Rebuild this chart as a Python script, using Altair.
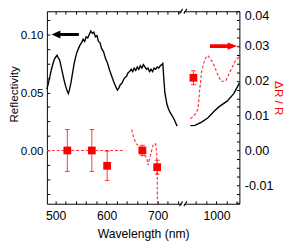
import altair as alt
import pandas as pd

# ---------------- data ----------------
# Reflectivity (black, left axis) – visible part
REFL_VIS_NM = [483, 486, 489, 492, 495, 498, 501, 503, 505, 508, 511, 514, 517, 520, 523, 525, 527, 530,
               533, 536, 539, 542, 545, 548, 551, 554, 557, 560, 563, 566, 569, 572, 575, 578, 581, 584,
               587, 590, 594, 598, 602, 606, 610, 614, 618, 621, 624, 627, 630, 633, 636, 639, 642, 645,
               648, 651, 654, 657, 660, 663, 666, 669, 672, 675, 678, 681, 684, 687, 690, 693, 696, 699,
               702, 705, 708, 710, 712, 714, 716, 718, 721, 724, 728, 731, 734, 736, 738]
REFL_VIS = [0.053, 0.058, 0.064, 0.070, 0.075, 0.079, 0.081, 0.082, 0.080, 0.078, 0.072, 0.066, 0.060,
            0.055, 0.051, 0.049, 0.052, 0.058, 0.066, 0.074, 0.080, 0.085, 0.088, 0.091, 0.093, 0.096,
            0.094, 0.098, 0.097, 0.100, 0.103, 0.101, 0.102, 0.098, 0.099, 0.094, 0.093, 0.088, 0.085,
            0.079, 0.075, 0.069, 0.064, 0.059, 0.055, 0.052, 0.054, 0.057, 0.058, 0.061, 0.063, 0.064,
            0.067, 0.068, 0.070, 0.068, 0.071, 0.069, 0.072, 0.070, 0.073, 0.071, 0.074, 0.072, 0.070,
            0.071, 0.068, 0.070, 0.068, 0.071, 0.070, 0.072, 0.071, 0.073, 0.074, 0.075, 0.062, 0.050,
            0.045, 0.040, 0.036, 0.033, 0.030, 0.028, 0.025, 0.023, 0.021]
# Reflectivity – near-IR part
REFL_NIR_NM = [949, 958, 971, 983, 996, 1006, 1021, 1034, 1045]
REFL_NIR = [0.0214, 0.0217, 0.0245, 0.028, 0.034, 0.038, 0.0425, 0.049, 0.058]

# dR/R (red dashed, right axis)
DR_ZERO_NM = [483, 633]
DR_ZERO = [0.0, 0.0]
DR_VIS_NM = [649, 653, 658, 664, 670, 675, 679, 681, 685, 689, 692, 696, 698, 699, 700]
DR_VIS = [0.006, 0.0037, 0.0019, 0.0012, 0.0, -0.0014, -0.0023, -0.0042, -0.0019, 0.0005, 0.0019,
          0.0019, -0.0005, -0.0048, -0.03]
DR_NIR_NM = [949, 958, 964, 967, 971, 977, 983, 993, 1002, 1009, 1018, 1028, 1037, 1045]
DR_NIR = [0.0091, 0.0103, 0.0119, 0.017, 0.0225, 0.0262, 0.0273, 0.0253, 0.022, 0.0199, 0.0199,
          0.023, 0.0257, 0.0271]

# dR/R measured points (red squares with error bars)
PT_NM = [523, 571, 601, 670, 699, 955]
PT_VAL = [0.0, 0.0, -0.0044, 0.0, -0.0048, 0.0209]
PT_ERR = [0.006, 0.006, 0.0042, 0.0015, 0.002, 0.002]

# arrows (center wavelength, value)
ARROW_L = {"nm": 519, "v": 0.10}
ARROW_R = {"nm": 1014, "v": 0.030}

# axis layout
BREAK_LO, BREAK_HI = 750, 935
SHIFT = BREAK_HI - BREAK_LO
X_DOMAIN = [483, 860]
X_TICKS_NM = list(range(500, 741, 20)) + list(range(960, 1041, 20))
X_LABELS = [500, 600, 700, 1000]
YL_DOMAIN = [-0.0459, 0.12]
YR_DOMAIN = [-0.0153, 0.04]
YL_TICKS = [round(-0.0375 + 0.0125 * i, 5) for i in range(13)]
YL_LABELS = [0.0, 0.05, 0.10]
YR_TICKS = [round(-0.015 + 0.0025 * i, 5) for i in range(23)]
YR_LABELS = [-0.01, 0.0, 0.01, 0.02, 0.03, 0.04]

RED = "#ff0000"
FONT = "Liberation Sans"

# ---------------- helpers ----------------
def disp(nm):
    return nm if nm <= BREAK_LO else nm - SHIFT

xcalc = f"datum.nm > {BREAK_LO} ? datum.nm - {SHIFT} : datum.nm"
X_TICK_POS = [disp(v) for v in X_TICKS_NM]
x_label_expr = " : ".join(f"datum.value == {disp(v)} ? '{v}'" for v in X_LABELS) + " : ''"


def ylab(vals):
    return " : ".join(
        f"abs(datum.value - ({v})) < 1e-6 ? '{v:.2f}'" for v in vals) + " : ''"


xscale = alt.Scale(domain=X_DOMAIN, nice=False, zero=False)
ylscale = alt.Scale(domain=YL_DOMAIN, nice=False, zero=False)
yrscale = alt.Scale(domain=YR_DOMAIN, nice=False, zero=False)

common = dict(offset=-3, tickSize=3, tickWidth=1, tickColor="black", domain=False, grid=False,
              labelFont=FONT, labelColor="black", labelFlush=False,
              labelOverlap=False, titleFont=FONT, titleFontWeight="normal")

x_bottom = alt.Axis(orient="bottom", values=X_TICK_POS, labelExpr=x_label_expr,
                    title="Wavelength (nm)", labelPadding=6, labelFontSize=12.5,
                    titleFontSize=12.5, titlePadding=6, titleColor="black", **common)
x_top = alt.Axis(orient="top", values=X_TICK_POS, labels=False, title=None, **common)
y_left = alt.Axis(orient="left", values=YL_TICKS, labelExpr=ylab(YL_LABELS), title="Reflectivity",
                  labelPadding=4, labelFontSize=12, titleFontSize=12, titleColor="black",
                  titleBaseline="alphabetic", titleX=-33, titleY=85, **common)
y_right = alt.Axis(orient="right", values=YR_TICKS, labelExpr=ylab(YR_LABELS), title="ΔR / R",
                   labelPadding=5, labelFontSize=13, titleFontSize=12, titleColor=RED,
                   titleBaseline="alphabetic", titleX=39, titleY=89,
                   labelOffset={"condition": {"test": "datum.value > 0.039", "value": 4.5}, "value": 0},
                   **common)

# ---------------- tables ----------------
refl = pd.DataFrame({
    "nm": REFL_VIS_NM + REFL_NIR_NM,
    "v": REFL_VIS + REFL_NIR,
    "seg": ["vis"] * len(REFL_VIS_NM) + ["nir"] * len(REFL_NIR_NM),
})
dr = pd.DataFrame({
    "nm": DR_ZERO_NM + DR_VIS_NM + DR_NIR_NM,
    "v": DR_ZERO + DR_VIS + DR_NIR,
    "seg": ["zero"] * len(DR_ZERO_NM) + ["vis"] * len(DR_VIS_NM) + ["nir"] * len(DR_NIR_NM),
})
pts = pd.DataFrame({"nm": PT_NM, "v": PT_VAL, "err": PT_ERR})
pts["lo"] = pts["v"] - pts["err"]
pts["hi"] = pts["v"] + pts["err"]
caps = pd.DataFrame({"nm": PT_NM + PT_NM, "v": list(pts["lo"]) + list(pts["hi"])})
brk = pd.DataFrame({"nm": [BREAK_LO, BREAK_LO], "v": YL_DOMAIN})

XL = alt.X("xd:Q", scale=xscale, axis=x_bottom)
XR = alt.X("xd:Q", scale=xscale, axis=x_top)
YL = alt.Y("v:Q", scale=ylscale, axis=y_left)
YR = alt.Y("v:Q", scale=yrscale, axis=y_right)

ARROW_LEFT_PATH = "M -1 0 L -0.36 -0.29 L -0.36 -0.11 L 1 -0.11 L 1 0.11 L -0.36 0.11 L -0.36 0.29 Z"
ARROW_RIGHT_PATH = "M 1 0 L 0.3 -0.27 L 0.3 -0.14 L -1 -0.14 L -1 0.14 L 0.3 0.14 L 0.3 0.27 Z"
SLASH_PATH = "M -0.95 0.6 L -0.15 -0.6 M 0.15 0.6 L 0.95 -0.6"
GAP_PATH = "M -0.25 -0.35 L 0.25 -0.35 L 0.25 0.35 L -0.25 0.35 Z"

# ---------------- left (black) group ----------------
black_line = alt.Chart(refl).transform_calculate(xd=xcalc).mark_line(
    color="black", strokeWidth=1.4).encode(x=XL, y=YL, detail="seg:N", order="nm:Q")
black_arrow = alt.Chart(pd.DataFrame([ARROW_L])).transform_calculate(xd=xcalc).mark_point(
    shape=ARROW_LEFT_PATH, size=28 * 28, filled=True, color="black", opacity=1, strokeWidth=0
).encode(x=XL, y=YL)
gap = alt.Chart(brk).transform_calculate(xd=xcalc).mark_point(
    shape=GAP_PATH, size=100, filled=True, color="white", opacity=1, strokeWidth=0
).encode(x=XL, y=YL)
slash = alt.Chart(brk).transform_calculate(xd=xcalc).mark_point(
    shape=SLASH_PATH, size=64, filled=False, color="black", opacity=1, strokeWidth=1.1
).encode(x=XL, y=YL)
left_group = alt.layer(black_line, black_arrow, gap, slash)

# ---------------- right (red) group ----------------
red_lines = alt.Chart(dr).transform_calculate(xd=xcalc).mark_line(
    color="#ff3333", strokeDash=[3, 2], strokeWidth=1.2, clip=True
).encode(x=XR, y=YR, detail="seg:N", order="nm:Q")
err_rules = alt.Chart(pts).transform_calculate(xd=xcalc).mark_rule(
    color=RED, strokeWidth=1, opacity=0.8
).encode(x=XR, y=alt.Y("lo:Q", scale=yrscale, axis=y_right), y2="hi:Q")
err_caps = alt.Chart(caps).transform_calculate(xd=xcalc).mark_rule(
    color=RED, strokeWidth=1, xOffset=-2.5, x2Offset=2.5, opacity=0.8
).encode(x=XR, x2="xd:Q", y=YR)
squares = alt.Chart(pts).transform_calculate(xd=xcalc).mark_square(
    size=64, color=RED, filled=True, opacity=1
).encode(x=XR, y=YR)
red_arrow = alt.Chart(pd.DataFrame([ARROW_R])).transform_calculate(xd=xcalc).mark_point(
    shape=ARROW_RIGHT_PATH, size=28 * 28, filled=True, color=RED, opacity=1, strokeWidth=0
).encode(x=XR, y=YR)
right_group = alt.layer(red_lines, err_rules, err_caps, squares, red_arrow)

chart = alt.layer(left_group, right_group).resolve_scale(
    y="independent").resolve_axis(x="independent").properties(
    width=198, height=198,
    autosize=alt.AutoSizeParams(type="none"),
    padding={"left": 40, "top": 0, "right": 50, "bottom": 36},
    background="white",
).configure_view(stroke="black", strokeWidth=1)

chart.save("out.html", embed_options={"renderer": "svg", "actions": False})
